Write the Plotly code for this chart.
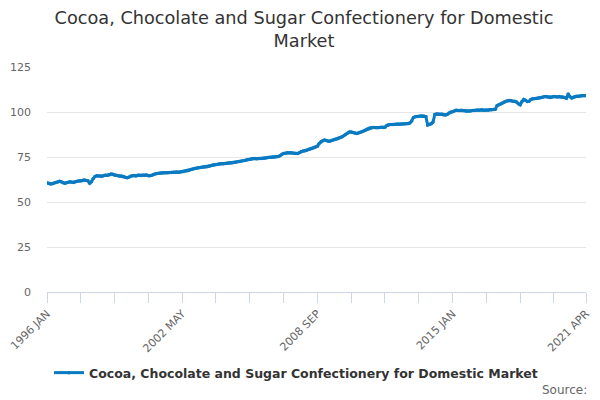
import plotly.graph_objects as go

months = ["JAN", "FEB", "MAR", "APR", "MAY", "JUN", "JUL", "AUG", "SEP", "OCT", "NOV", "DEC"]
categories = [f"{y} {m}" for y in range(1996, 2022) for m in months][:304]

series_name = "Cocoa, Chocolate and Sugar Confectionery for Domestic Market"

v1996 = [60.7, 60.3, 60.0, 60.2, 60.6, 60.8, 61.1, 61.5, 61.2, 60.7, 60.4, 60.7]
v1997 = [61.0, 61.2, 61.0, 60.9, 61.2, 61.5, 61.7, 61.6, 61.9, 62.2, 62.0, 61.8]
v1998 = [60.4, 61.3, 63.0, 64.2, 64.6, 64.5, 64.4, 64.3, 64.7, 65.0, 64.9, 65.1]
v1999 = [65.5, 65.4, 64.9, 64.8, 64.6, 64.4, 64.5, 64.2, 63.8, 63.5, 63.8, 64.3]
v2000 = [64.6, 64.7, 64.5, 64.8, 64.9, 64.7, 64.8, 64.9, 65.0, 64.6, 64.6, 64.8]
v2001 = [65.3, 65.7, 65.9, 66.0, 66.1, 66.2, 66.3, 66.2, 66.3, 66.4, 66.4, 66.5]
v2002 = [66.5, 66.6, 66.5, 66.7, 66.8, 67.0, 67.2, 67.3, 67.7, 68.0, 68.3, 68.6]
v2003 = [68.8, 69.0, 69.2, 69.3, 69.4, 69.4, 69.6, 69.9, 70.2, 70.5, 70.7, 70.9]
v2004 = [71.0, 71.2, 71.3, 71.3, 71.4, 71.5, 71.6, 71.7, 71.7, 71.9, 72.1, 72.4]
v2005 = [72.5, 72.7, 72.9, 73.1, 73.3, 73.6, 73.8, 74.0, 74.1, 74.1, 74.0, 74.1]
v2006 = [74.2, 74.2, 74.3, 74.5, 74.7, 74.8, 74.9, 75.0, 75.0, 75.1, 75.3, 75.7]
v2007 = [76.5, 77.0, 77.1, 77.3, 77.4, 77.3, 77.2, 77.1, 77.0, 77.0, 77.5, 78.0]
v2008 = [78.3, 78.5, 78.8, 79.1, 79.4, 79.7, 80.2, 80.6, 81.0, 82.5, 83.5, 84.0]
v2009 = [84.4, 84.2, 83.8, 83.8, 84.2, 84.5, 84.7, 85.0, 85.4, 85.8, 86.3, 86.9]
v2010 = [87.6, 88.4, 88.9, 88.9, 88.6, 88.3, 88.1, 88.3, 88.7, 89.0, 89.4, 90.0]
v2011 = [90.5, 91.0, 91.3, 91.4, 91.4, 91.3, 91.3, 91.4, 91.5, 91.4, 91.5, 92.5]
v2012 = [92.9, 93.0, 93.1, 93.1, 93.2, 93.3, 93.2, 93.3, 93.4, 93.5, 93.5, 93.6]
v2013 = [93.9, 95.0, 97.0, 97.3, 97.5, 97.7, 97.8, 97.8, 97.6, 97.4, 92.8, 93.0]
v2014 = [93.5, 94.4, 98.6, 98.9, 98.9, 98.8, 98.9, 98.5, 98.3, 98.6, 99.4, 100.0]
v2015 = [100.2, 100.6, 101.0, 100.9, 100.8, 101.0, 100.9, 100.7, 100.4, 100.5, 100.6, 100.8]
v2016 = [100.9, 101.0, 101.1, 101.0, 101.2, 101.1, 101.0, 101.1, 101.0, 101.2, 101.3, 101.4]
v2017 = [101.5, 103.5, 104.0, 104.5, 105.0, 105.5, 106.0, 106.3, 106.4, 106.2, 106.0, 106.0]
v2018 = [105.5, 104.6, 104.0, 105.8, 107.0, 106.5, 105.8, 106.0, 107.0, 107.3, 107.4, 107.5]
v2019 = [107.6, 107.8, 108.0, 108.3, 108.6, 108.5, 108.2, 108.0, 108.3, 108.6, 108.5, 108.4]
v2020 = [108.6, 108.5, 108.3, 108.0, 107.6, 110.0, 108.5, 107.8, 108.2, 108.6, 108.7, 108.8]
v2021 = [109.0, 109.2, 109.0, 109.2]

values = (v1996 + v1997 + v1998 + v1999 + v2000 + v2001 + v2002 + v2003 + v2004
          + v2005 + v2006 + v2007 + v2008 + v2009 + v2010 + v2011 + v2012 + v2013
          + v2014 + v2015 + v2016 + v2017 + v2018 + v2019 + v2020 + v2021)

y_ticks = [0, 25, 50, 75, 100, 125]

tick_idx = list(range(0, len(categories), 19)) + [len(categories) - 1]
tick_idx = sorted(set(tick_idx))
label_idx = {0, 76, 152, 228, len(categories) - 1}
tickvals = [categories[i] for i in tick_idx]
ticktext = [categories[i] if i in label_idx else "" for i in tick_idx]

fig = go.Figure()
fig.add_trace(go.Scatter(
    x=categories, y=values, mode="lines+markers", name=series_name,
    line=dict(color="#0a7bc2", width=3),
    marker=dict(color="#0a7bc2", size=3.5),
))

# page body has an 8px default margin, so the figure is 8px smaller than the window
fig.update_layout(
    width=592, height=392,
    margin=dict(l=39, r=14, t=59, b=108, autoexpand=False),
    paper_bgcolor="white", plot_bgcolor="white",
    font=dict(family="DejaVu Sans", color="#666666", size=11),
    title=dict(text="Cocoa, Chocolate and Sugar Confectionery for Domestic<br>Market",
               x=0.5, xanchor="center", y=0.96, yanchor="middle",
               font=dict(size=17.7, color="#333333", family="DejaVu Sans")),
    showlegend=True,
    legend=dict(orientation="h", x=0.462, xanchor="center", y=-0.36, yanchor="middle",
                itemwidth=30,
                font=dict(size=12.5, color="#333333", family="DejaVu Sans", weight="bold"),
                bgcolor="rgba(0,0,0,0)"),
    annotations=[dict(text="Source:", xref="paper", yref="paper", x=1.005, y=-0.435,
                      xanchor="right", yanchor="middle", showarrow=False,
                      font=dict(size=12, color="#666666"))],
)

fig.update_xaxes(
    type="category", range=[0, len(categories) - 1], automargin=False,
    tickmode="array", tickvals=tickvals, ticktext=ticktext, tickangle=-45,
    showline=True, linecolor="#ccd6eb", linewidth=1,
    ticks="outside", ticklen=10, tickcolor="#ccd6eb",
    showgrid=False, zeroline=False,
    tickfont=dict(size=11, color="#666666"),
)
fig.update_yaxes(
    range=[0, 125], tickvals=y_ticks, showgrid=True, gridcolor="#e6e6e6",
    zeroline=False, showline=False, ticks="", ticklabelstandoff=15, automargin=False,
    tickfont=dict(size=11, color="#666666"),
)

fig.write_html("out.html")
